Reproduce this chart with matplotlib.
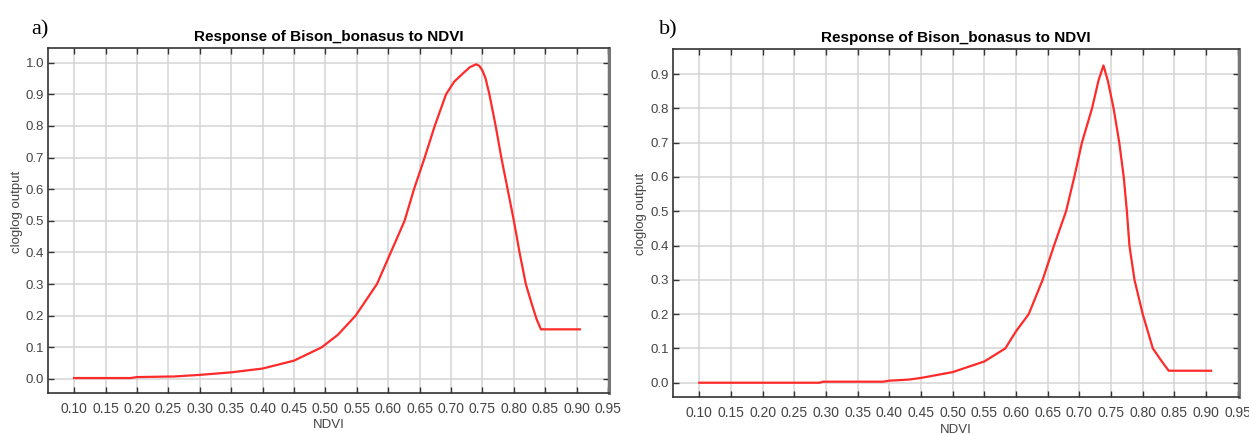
import matplotlib.pyplot as plt
import numpy as np

# кривые отклика (a и b)
ndvi_a = [0.10, 0.19, 0.20, 0.26, 0.30, 0.35, 0.40, 0.45, 0.494, 0.52, 0.548, 0.582, 0.604,
          0.626, 0.641, 0.658, 0.674, 0.692, 0.705, 0.72, 0.73, 0.74, 0.745, 0.75, 0.755,
          0.761, 0.771, 0.780, 0.790, 0.800, 0.809, 0.819, 0.828, 0.836, 0.843, 0.905]
resp_a = [0.003, 0.003, 0.006, 0.008, 0.013, 0.021, 0.033, 0.058, 0.10, 0.14, 0.20, 0.30, 0.40,
          0.50, 0.60, 0.70, 0.80, 0.90, 0.94, 0.968, 0.986, 0.995, 0.99, 0.975, 0.95,
          0.90, 0.80, 0.70, 0.60, 0.50, 0.40, 0.30, 0.24, 0.19, 0.157, 0.157]

ndvi_b = [0.10, 0.29, 0.295, 0.39, 0.40, 0.43, 0.45, 0.50, 0.55, 0.583, 0.60, 0.62, 0.642, 0.66,
          0.679, 0.692, 0.704, 0.72, 0.73, 0.738, 0.745, 0.754, 0.763, 0.770, 0.775, 0.779,
          0.787, 0.80, 0.816, 0.829, 0.841, 0.908]
resp_b = [0.0, 0.0, 0.003, 0.003, 0.006, 0.009, 0.014, 0.031, 0.062, 0.10, 0.15, 0.20, 0.30, 0.40,
          0.50, 0.60, 0.70, 0.80, 0.88, 0.925, 0.88, 0.80, 0.70, 0.60, 0.50, 0.40,
          0.30, 0.20, 0.10, 0.065, 0.035, 0.035]

x_ticks = [0.10, 0.15, 0.20, 0.25, 0.30, 0.35, 0.40, 0.45, 0.50, 0.55, 0.60, 0.65, 0.70,
           0.75, 0.80, 0.85, 0.90, 0.95]
y_ticks_a = [0.0, 0.1, 0.2, 0.3, 0.4, 0.5, 0.6, 0.7, 0.8, 0.9, 1.0]
y_ticks_b = [0.0, 0.1, 0.2, 0.3, 0.4, 0.5, 0.6, 0.7, 0.8, 0.9]

title = 'Response of Bison_bonasus to NDVI'

plt.rcParams['font.family'] = ['Liberation Sans', 'DejaVu Sans']

fig = plt.figure(figsize=(12.49, 4.34), dpi=100)

ax_a = fig.add_axes([0.0387, 0.0952, 0.4492, 0.7935])
ax_b = fig.add_axes([0.5391, 0.0859, 0.4529, 0.8012])

panels = [
    (ax_a, ndvi_a, resp_a, y_ticks_a, (-0.0433, 1.0455), 'a)', 0.025, -0.077),
    (ax_b, ndvi_b, resp_b, y_ticks_b, (-0.0408, 0.973), 'b)', 0.528, -0.079),
]

for ax, xs, ys, yt, ylim, lab, lx, ny in panels:
    ax.plot(xs, ys, color='#ff2a2a', lw=1.6, solid_joinstyle='round')
    ax.set_xlim(0.059, 0.952)
    ax.set_ylim(*ylim)
    ax.set_xticks(x_ticks)
    ax.set_xticklabels(['%.2f' % v for v in x_ticks])
    ax.set_yticks(yt)
    ax.set_yticklabels(['%.1f' % v for v in yt])
    ax.grid(True, color='#d4d4d4', lw=1.1)
    ax.set_axisbelow(True)
    ax.tick_params(direction='in', length=4, width=1.0, color='#333333',
                   top=True, right=True, labelcolor='#444444', pad=3)
    ax.tick_params(axis='x', pad=6.5, labelsize=10)
    ax.tick_params(axis='y', labelsize=9.5)
    for side in ['left', 'bottom', 'top']:
        ax.spines[side].set_color('#333333')
        ax.spines[side].set_linewidth(1.2)
    ax.spines['right'].set_color('#777777')
    ax.spines['right'].set_linewidth(2.2)
    ax.set_title(title, fontsize=11, fontweight='bold', pad=5)
    ax.set_xlabel('NDVI', fontsize=9.5, color='#444444')
    ax.xaxis.set_label_coords(0.5, ny)
    ax.set_ylabel('cloglog output', fontsize=9.5, color='#444444')
    ax.yaxis.set_label_coords(-0.046, 0.525)
    fig.text(lx, 0.92, lab, family='Liberation Serif', fontsize=16)

plt.savefig('out.png', dpi=100)
